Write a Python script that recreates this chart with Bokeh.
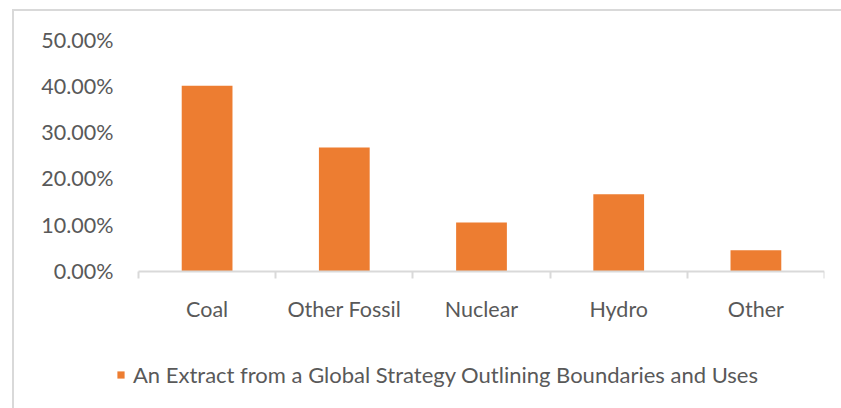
from bokeh.plotting import figure
from bokeh.models import (FixedTicker, NumeralTickFormatter, Legend, LegendItem,
                          ColumnDataSource, Range1d)
from bokeh.embed import file_html
from bokeh.resources import INLINE

# Share of electricity generation by source
categories = ["Coal", "Other Fossil", "Nuclear", "Hydro", "Other"]
shares = [0.400, 0.267, 0.105, 0.166, 0.045]
y_ticks = [0.0, 0.1, 0.2, 0.3, 0.4, 0.5]
series_name = "An Extract from a Global Strategy Outlining Boundaries and Uses"

ORANGE = "#ED7D31"
TEXT = "#595959"
LINE = "#D9D9D9"
FONT = "Lato"

W, H = 841, 408
n = len(categories)
centers = [i + 0.5 for i in range(n)]
bounds = [float(i) for i in range(n + 1)]
src = ColumnDataSource(dict(x=centers, top=shares, cat=categories))

# frame geometry (px): the frame reaches below the value axis so that the
# legend can sit inside it; the category axis is pinned at y = 0
frame_left, cat_left, cat_right = 116, 138, 824
frame_top, zero_y, frame_bottom = 39, 270.5, 400
y_max = max(y_ticks)
cat_w = (cat_right - cat_left) / n
x_start = -(cat_left - frame_left) / cat_w
y_start = -y_max * (frame_bottom - zero_y) / (zero_y - frame_top)

p = figure(width=W, height=H, output_backend="svg", toolbar_location=None,
           x_range=Range1d(x_start, n), y_range=Range1d(y_start, y_max),
           min_border_left=frame_left, min_border_right=W - cat_right,
           min_border_top=frame_top, min_border_bottom=H - frame_bottom)
p.background_fill_color = "white"
p.border_fill_alpha = 0
p.outline_line_color = None
p.grid.visible = False
# light chart-area outline along the top and left edges
p.styles = {"box-shadow": "inset 12px 9px 0 0 #ffffff, inset 14px 11px 0 0 #d9d9d9",
            "background-color": "#ffffff"}

bars = p.vbar(x="x", top="top", bottom=0, width=0.37, source=src,
              fill_color=ORANGE, line_color=None)

# y axis: percent labels only
p.yaxis.ticker = FixedTicker(ticks=y_ticks)
p.yaxis.formatter = NumeralTickFormatter(format="0.00%")
p.yaxis.axis_line_color = None
p.yaxis.major_tick_line_color = None
p.yaxis.minor_tick_line_color = None
p.yaxis.major_tick_out = 0
p.yaxis.major_tick_in = 0
p.yaxis.major_label_standoff = 3
p.yaxis.major_label_text_font = FONT
p.yaxis.major_label_text_font_size = "21.5px"
p.yaxis.major_label_text_color = TEXT

# x axis: category names at centers, ticks on the category boundaries
p.xaxis.fixed_location = 0
p.xaxis.ticker = FixedTicker(ticks=centers, minor_ticks=bounds)
p.xaxis.bounds = (0, n)
p.xaxis.major_label_overrides = {c: name for c, name in zip(centers, categories)}
p.xaxis.axis_line_color = LINE
p.xaxis.axis_line_width = 2
p.xaxis.major_tick_line_color = None
p.xaxis.major_tick_out = 0
p.xaxis.major_tick_in = 0
p.xaxis.minor_tick_line_color = LINE
p.xaxis.minor_tick_line_width = 2
p.xaxis.minor_tick_out = 7
p.xaxis.minor_tick_in = 0
p.xaxis.major_label_standoff = 18
p.xaxis.major_label_text_font = FONT
p.xaxis.major_label_text_font_size = "21.5px"
p.xaxis.major_label_text_color = TEXT

legend = Legend(items=[LegendItem(label=series_name, renderers=[bars])],
                location=(0, 12), orientation="horizontal",
                glyph_width=9, glyph_height=9, label_standoff=8,
                label_height=20, padding=0, margin=0, spacing=0,
                border_line_color=None, background_fill_alpha=0,
                label_text_font=FONT, label_text_font_size="22px",
                label_text_color=TEXT)
p.add_layout(legend, "center")

open("out.html", "w").write(file_html(p, INLINE))
